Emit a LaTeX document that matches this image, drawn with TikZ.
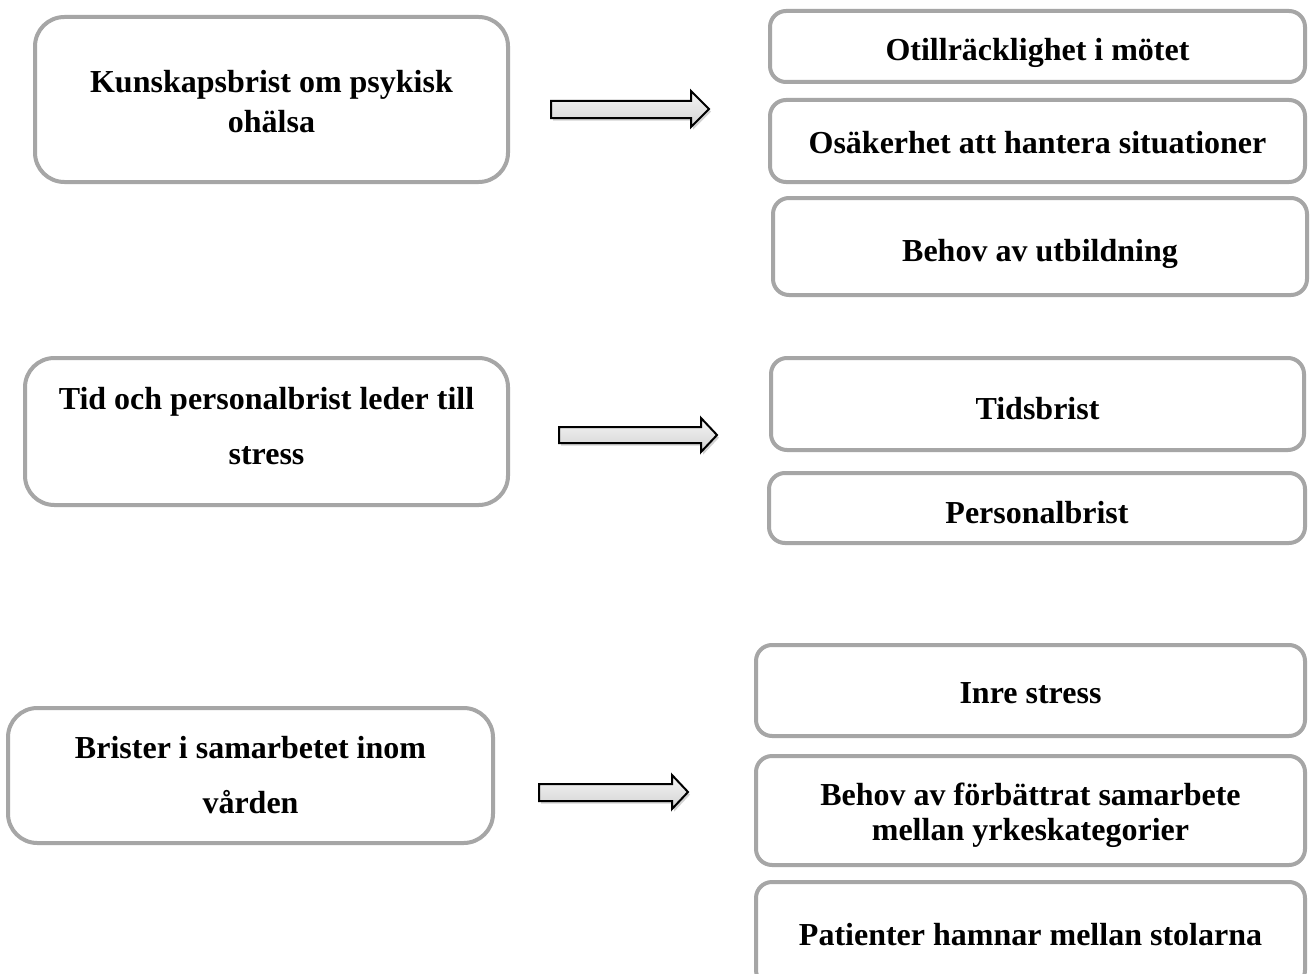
\documentclass[tikz,border=0pt]{standalone}
\usepackage{fontspec}
\setmainfont{Liberation Serif}
\usetikzlibrary{shadows}
\definecolor{boxgray}{HTML}{A6A6A6}
\tikzset{
  box/.style={draw=boxgray, line width=3pt, rounded corners=#1, fill=white,
    inner sep=0pt},
  lbox/.style={box=22pt},
  rbox/.style={box=12pt},
  ltxt/.style={align=center, inner sep=0pt, text=black,
    font=\bfseries\fontsize{24}{30}\selectfont},
  ltxtwide/.style={align=center, inner sep=0pt, text=black,
    font=\bfseries\fontsize{24}{41.25}\selectfont},
  rtxt/.style={align=center, inner sep=0pt, text=black,
    font=\bfseries\fontsize{24}{26.5}\selectfont},
  blockarrow/.style={draw=black, line width=1.5pt, line join=miter,
    top color=gray!8, bottom color=gray!35,
    drop shadow={opacity=0.35, shadow xshift=1.5pt, shadow yshift=-2pt}},
}
\begin{document}
\begin{tikzpicture}[x=0.75pt, y=-0.75pt]
\clip (0,0) rectangle (1310,974);
\fill[white] (0,0) rectangle (1310,974);

% left boxes
\node[lbox, minimum width=354.75pt, minimum height=123.75pt] (L1) at (271.5,99.5) {};
\node[ltxt] (L1t) at ([yshift=-1.9pt]L1.center) {Kunskapsbrist om psykisk\\ohälsa};
\node[lbox, minimum width=362.25pt, minimum height=110.25pt] (L2) at (266.5,431.5) {};
\node[ltxtwide] (L2t) at ([yshift=3.75pt]L2.center) {Tid och personalbrist leder till\\stress};
\node[lbox, minimum width=363.75pt, minimum height=101.25pt] (L3) at (250.5,775.5) {};
\node[ltxtwide] (L3t) at (L3.center) {Brister i samarbetet inom\\vården};

% right boxes
\node[rbox, minimum width=401.25pt, minimum height=53.25pt] (R1) at (1037.5,46.5) {};
\node[rtxt] (R1t) at ([yshift=-4.5pt]R1.center) {Otillräcklighet i mötet};
\node[rbox, minimum width=401.25pt, minimum height=61.5pt] (R2) at (1037.5,141) {};
\node[rtxt] (R2t) at ([yshift=-1.5pt]R2.center) {Osäkerhet att hantera situationer};
\node[rbox, minimum width=400.5pt, minimum height=72.75pt] (R3) at (1040,246.5) {};
\node[rtxt] (R3t) at ([yshift=-5.25pt]R3.center) {Behov av utbildning};
\node[rbox, minimum width=399.75pt, minimum height=69pt] (R4) at (1037.5,404) {};
\node[rtxt] (R4t) at ([yshift=-3.75pt]R4.center) {Tidsbrist};
\node[rbox, minimum width=402pt, minimum height=52.5pt] (R5) at (1037,508) {};
\node[rtxt] (R5t) at ([yshift=-3.75pt]R5.center) {Personalbrist};
\node[rbox, minimum width=411.75pt, minimum height=68.25pt] (R6) at (1030.5,690.5) {};
\node[rtxt] (R6t) at ([yshift=-2.25pt]R6.center) {Inre stress};
\node[rbox, minimum width=411.75pt, minimum height=81.75pt] (R7) at (1030.5,810.5) {};
\node[rtxt] (R7t) at ([yshift=-3.75pt]R7.center) {Behov av förbättrat samarbete\\mellan yrkeskategorier};
\node[rbox, minimum width=411.75pt, minimum height=78pt] (R8) at (1030.5,934) {};
\node[rtxt] (R8t) at ([yshift=-0.75pt]R8.center) {Patienter hamnar mellan stolarna};

% block arrows
\path[blockarrow] (551,101) -- (691,101) -- (691,91) -- (709,109) -- (691,127)
  -- (691,118) -- (551,118) -- cycle;
\path[blockarrow] (559,427) -- (701,427) -- (701,418) -- (717,435) -- (701,452)
  -- (701,443) -- (559,443) -- cycle;
\path[blockarrow] (539,784) -- (672,784) -- (672,775) -- (688,792) -- (672,809)
  -- (672,801) -- (539,801) -- cycle;
\end{tikzpicture}
\end{document}
